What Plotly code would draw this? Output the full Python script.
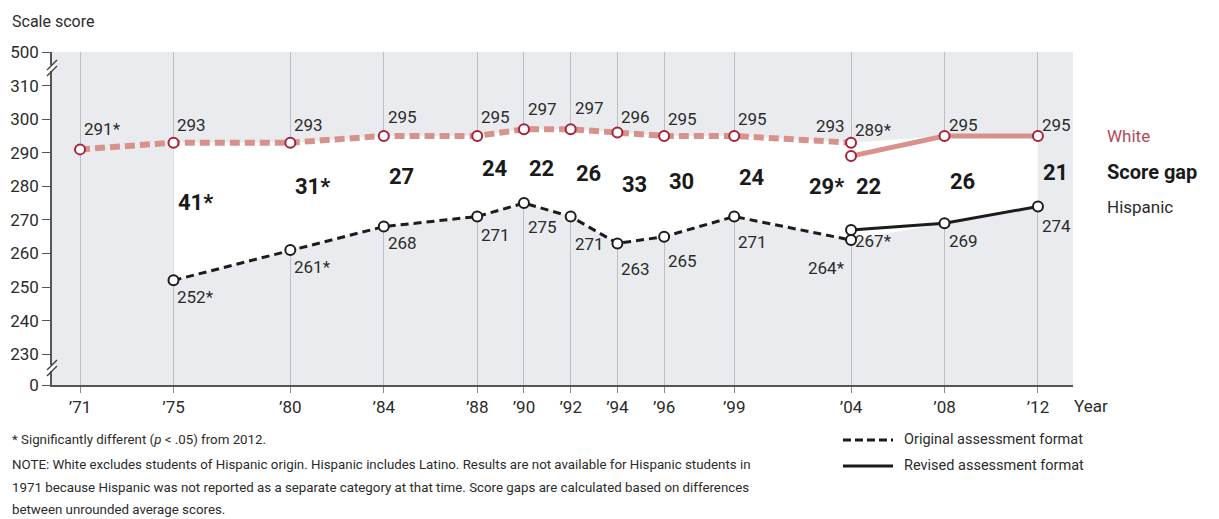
import plotly.graph_objects as go

# ---------------- data ----------------
years_all = [1971, 1975, 1980, 1984, 1988, 1990, 1992, 1994, 1996, 1999, 2004, 2008, 2012]
year_ticks = ["’71", "’75", "’80", "’84", "’88", "’90", "’92", "’94", "’96", "’99", "’04", "’08", "’12"]

white_orig_years = [1971, 1975, 1980, 1984, 1988, 1990, 1992, 1994, 1996, 1999, 2004]
white_orig = [291, 293, 293, 295, 295, 297, 297, 296, 295, 295, 293]
white_orig_lbl = ["291*", "293", "293", "295", "295", "297", "297", "296", "295", "295", "293"]

white_rev_years = [2004, 2008, 2012]
white_rev = [289, 295, 295]
white_rev_lbl = ["289*", "295", "295"]

hisp_orig_years = [1975, 1980, 1984, 1988, 1990, 1992, 1994, 1996, 1999, 2004]
hisp_orig = [252, 261, 268, 271, 275, 271, 263, 265, 271, 264]
hisp_orig_lbl = ["252*", "261*", "268", "271", "275", "271", "263", "265", "271", "264*"]

hisp_rev_years = [2004, 2008, 2012]
hisp_rev = [267, 269, 274]
hisp_rev_lbl = ["267*", "269", "274"]

gap_years = [1975, 1980, 1984, 1988, 1990, 1992, 1994, 1996, 1999, 2004, 2004, 2008, 2012]
gap_text = ["41*", "31*", "27", "24", "22", "26", "33", "30", "24", "29*", "22", "26", "21"]

# broken y axis: displayed labels at axis positions
y_tick_labels = ["0", "230", "240", "250", "260", "270", "280", "290", "300", "310", "500"]

# ---------------- layout settings ----------------
Y_LOW, Y_HIGH = 220.83, 320.0
y_tick_pos = [Y_LOW, 230, 240, 250, 260, 270, 280, 290, 300, 310, Y_HIGH]

FONT = "Roboto, Liberation Sans, sans-serif"
TXT = "#2b2b2b"
WHITE_LINE = "#d8928c"
WHITE_MARK = "#a8213a"
HISP_LINE = "#1c1c1c"
BG = "#e9ebee"

# label offsets (pixels)
white_orig_dy = [20, 18, 18, 19, 19, 20, 21, 16, 17, 17, 17]
white_rev_dy = [26, 11, 11]
hisp_orig_dy = [-17, -17, -16, -18, -24, -27, -26, -24, -25, -28]
hisp_rev_dy = [-11, -18, -20]
gap_label_y = [275.3, 279.8, 283.0, 285.4, 285.4, 283.9, 280.4, 281.3, 282.7, 279.8, 279.8, 281.3, 284.2]

fig = go.Figure()

# white band between the two series (1975-2012)
band_x = white_orig_years[1:] + white_rev_years[1:] + hisp_rev_years[1:][::-1] + hisp_orig_years[::-1]
band_y = white_orig[1:] + white_rev[1:] + hisp_rev[1:][::-1] + hisp_orig[::-1]
fig.add_trace(go.Scatter(x=band_x, y=band_y, fill="toself", fillcolor="white",
                         mode="lines", line=dict(width=0), hoverinfo="skip", showlegend=False))

marker_w = dict(size=10, color="white", line=dict(color=WHITE_MARK, width=2))
marker_h = dict(size=10, color="white", line=dict(color=HISP_LINE, width=2))

fig.add_trace(go.Scatter(x=white_orig_years, y=white_orig, mode="lines+markers",
                         line=dict(color=WHITE_LINE, width=6, dash="10px,5px"),
                         marker=marker_w, showlegend=False))
fig.add_trace(go.Scatter(x=white_rev_years, y=white_rev, mode="lines+markers",
                         line=dict(color=WHITE_LINE, width=5),
                         marker=marker_w, showlegend=False))
fig.add_trace(go.Scatter(x=hisp_orig_years, y=hisp_orig, mode="lines+markers",
                         line=dict(color=HISP_LINE, width=3, dash="8px,5px"),
                         marker=marker_h, showlegend=False))
fig.add_trace(go.Scatter(x=hisp_rev_years, y=hisp_rev, mode="lines+markers",
                         line=dict(color=HISP_LINE, width=3),
                         marker=marker_h, showlegend=False))

ann = []
lbl_font = dict(family=FONT, size=17, color=TXT)


def add_labels(xs, ys, texts, dys, right_year=None):
    for x, y, t, dy in zip(xs, ys, texts, dys):
        right = right_year is not None and x == right_year
        ann.append(dict(x=x, y=y, xref="x", yref="y", text=t, showarrow=False,
                        xanchor="right" if right else "left", yanchor="middle",
                        xshift=-4 if right else 2, yshift=dy, font=lbl_font))


add_labels(white_orig_years, white_orig, white_orig_lbl, white_orig_dy, right_year=2004)
add_labels(white_rev_years, white_rev, white_rev_lbl, white_rev_dy)
add_labels(hisp_orig_years, hisp_orig, hisp_orig_lbl, hisp_orig_dy, right_year=2004)
add_labels(hisp_rev_years, hisp_rev, hisp_rev_lbl, hisp_rev_dy)

for x, t, gy in zip(gap_years, gap_text, gap_label_y):
    right = (t == "29*")
    ann.append(dict(x=x, y=gy, xref="x", yref="y", text=t, showarrow=False,
                    xanchor="right" if right else "left", yanchor="middle",
                    xshift=-5 if right else 3,
                    font=dict(family=FONT, size=22, color="#1a1a1a", weight="bold")))

# outside texts (paper coords)
ann += [
    dict(x=-0.0411, y=1.093, xref="paper", yref="paper", text="Scale score", showarrow=False,
         xanchor="left", yanchor="middle", font=dict(family=FONT, size=16, color=TXT)),
    dict(x=0.999, y=-0.063, xref="paper", yref="paper", text="Year", showarrow=False,
         xanchor="left", yanchor="middle", font=dict(family=FONT, size=17, color=TXT)),
    dict(x=1.0313, y=0.748, xref="paper", yref="paper", text="White", showarrow=False,
         xanchor="left", yanchor="middle", font=dict(family=FONT, size=17, color="#b5485c")),
    dict(x=1.0313, y=0.640, xref="paper", yref="paper", text="Score gap", showarrow=False,
         xanchor="left", yanchor="middle", font=dict(family=FONT, size=20, color="#1a1a1a", weight="bold")),
    dict(x=1.0313, y=0.535, xref="paper", yref="paper", text="Hispanic", showarrow=False,
         xanchor="left", yanchor="middle", font=dict(family=FONT, size=17, color=TXT)),
]

notes = [
    "* Significantly different (<i>p</i> &lt; .05) from 2012.",
    "NOTE: White excludes students of Hispanic origin. Hispanic includes Latino. Results are not available for Hispanic students in",
    "1971 because Hispanic was not reported as a separate category at that time. Score gaps are calculated based on differences",
    "between unrounded average scores.",
]
for t, yy in zip(notes, [-0.165, -0.240, -0.309, -0.375]):
    ann.append(dict(x=-0.0411, y=yy, xref="paper", yref="paper", text=t, showarrow=False,
                    xanchor="left", yanchor="middle", font=dict(family=FONT, size=13.3, color=TXT)))

for t, yy in zip(["Original assessment format", "Revised assessment format"], [-0.165, -0.243]):
    ann.append(dict(x=0.8325, y=yy, xref="paper", yref="paper", text=t, showarrow=False,
                    xanchor="left", yanchor="middle", font=dict(family=FONT, size=14.5, color=TXT)))

shapes = [
    dict(type="line", xref="paper", yref="paper", x0=0.7747, x1=0.8237, y0=-0.165, y1=-0.165,
         line=dict(color="#1a1a1a", width=3, dash="8px,4px")),
    dict(type="line", xref="paper", yref="paper", x0=0.7747, x1=0.8237, y0=-0.243, y1=-0.243,
         line=dict(color="#1a1a1a", width=3)),
]


# axis break marks (pixel -> paper helpers; plot area 1021 x 333 px)
def py2paper(py):
    return (385 - py) / 333


def px2paper(px):
    return (px - 52) / 1021


for by in [68, 368]:
    shapes.append(dict(type="rect", xref="paper", yref="paper",
                       x0=px2paper(49), x1=px2paper(55), y0=py2paper(by + 3), y1=py2paper(by - 3),
                       fillcolor="white", line=dict(width=0), layer="above"))
    for off in [-3, 3]:
        shapes.append(dict(type="line", xref="paper", yref="paper",
                           x0=px2paper(47), x1=px2paper(57), y0=py2paper(by + off + 5), y1=py2paper(by + off - 5),
                           line=dict(color="#444", width=1.5), layer="above"))

# page body has an 8px margin, so the figure is 8px smaller than the window
fig.update_layout(
    width=1211, height=511,
    margin=dict(l=44, r=146, t=44, b=134),
    paper_bgcolor="white", plot_bgcolor=BG,
    annotations=ann, shapes=shapes,
    xaxis=dict(range=[1969.8, 2013.5], tickmode="array", tickvals=years_all, ticktext=year_ticks,
               showgrid=True, gridcolor="#bcc0c5", gridwidth=1, zeroline=False,
               showline=True, linecolor="#555", linewidth=1.5, automargin=False,
               ticks="outside", ticklen=6, tickcolor="#888",
               tickfont=dict(family=FONT, size=17, color=TXT)),
    yaxis=dict(range=[Y_LOW, Y_HIGH], tickmode="array", tickvals=y_tick_pos, ticktext=y_tick_labels,
               showgrid=False, zeroline=False, showline=True, linecolor="#555", linewidth=1.5,
               automargin=False, ticks="outside", ticklen=8, tickcolor="#555",
               tickfont=dict(family=FONT, size=17, color=TXT)),
)

fig.write_html("out.html")
